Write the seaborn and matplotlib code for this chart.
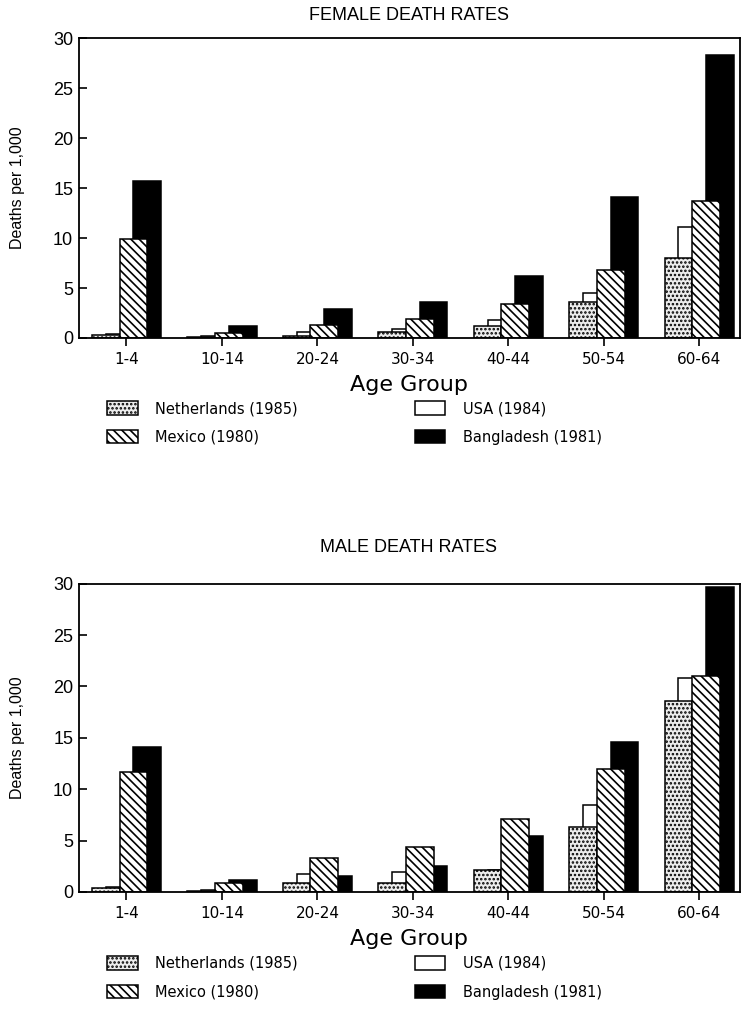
import numpy as np
import pandas as pd
import matplotlib
matplotlib.use('Agg')
import matplotlib.pyplot as plt
from matplotlib.patches import Patch
import seaborn as sns

# ─── data (deaths per 1,000) ────────────────────────────────────────────────
age_groups = ['1-4', '10-14', '20-24', '30-34', '40-44', '50-54', '60-64']
countries  = ['Netherlands (1985)', 'USA (1984)', 'Mexico (1980)', 'Bangladesh (1981)']

female_netherlands = [0.3, 0.05, 0.2, 0.6, 1.2, 3.6, 8.0]
female_usa         = [0.4, 0.15, 0.55, 0.85, 1.8, 4.5, 11.1]
female_mexico      = [9.9, 0.5, 1.3, 1.9, 3.4, 6.8, 13.7]
female_bangladesh  = [15.7, 1.2, 2.9, 3.6, 6.2, 14.1, 28.3]

male_netherlands = [0.35, 0.1, 0.85, 0.85, 2.1, 6.3, 18.6]
male_usa         = [0.45, 0.2, 1.75, 1.9, 2.1, 8.5, 20.8]
male_mexico      = [11.7, 0.9, 3.3, 4.35, 7.1, 12.0, 21.0]
male_bangladesh  = [14.1, 1.2, 1.55, 2.5, 5.4, 14.6, 29.7]

y_ticks = [0, 5, 10, 15, 20, 25, 30]


def long_table(series):
    rows = []
    for country, vals in zip(countries, series):
        for age, v in zip(age_groups, vals):
            rows.append({'age': age, 'country': country, 'rate': v})
    return pd.DataFrame(rows)


female_df = long_table([female_netherlands, female_usa, female_mexico, female_bangladesh])
male_df   = long_table([male_netherlands, male_usa, male_mexico, male_bangladesh])

# ─── style ──────────────────────────────────────────────────────────────────
sns.set_theme(style='ticks')
plt.rcParams['font.family'] = ['DejaVu Sans']
plt.rcParams['hatch.linewidth'] = 1.2
for k in ['text.color', 'axes.labelcolor', 'xtick.color', 'ytick.color']:
    plt.rcParams[k] = 'black'

FACE  = {'Netherlands (1985)': '#ececec', 'USA (1984)': 'white',
         'Mexico (1980)': 'white', 'Bangladesh (1981)': 'black'}
HATCH = {'Netherlands (1985)': '....', 'USA (1984)': '',
         'Mexico (1980)': '\\\\\\\\', 'Bangladesh (1981)': ''}
ZORD  = {'Netherlands (1985)': 3, 'USA (1984)': 2,
         'Mexico (1980)': 3, 'Bangladesh (1981)': 1}
BAR_W = 0.29          # each bar overlaps its neighbour by half a bar
STEP  = 0.145

fig = plt.figure(figsize=(7.5, 10.33), dpi=100)
ax_f = fig.add_axes([0.105, 0.6728, 0.882, 0.2904])
ax_m = fig.add_axes([0.105, 0.1365, 0.882, 0.2985])


def draw_panel(ax, df, title, title_y, legend_y):
    sns.barplot(data=df, x='age', y='rate', hue='country',
                order=age_groups, hue_order=countries,
                palette=FACE, width=4 * STEP, dodge=True,
                edgecolor='black', linewidth=1.1, errorbar=None,
                legend=False, ax=ax)
    for cont, country in zip(ax.containers, countries):
        for r in cont:
            cx = r.get_x() + r.get_width() / 2
            r.set_width(BAR_W)
            r.set_x(cx - BAR_W / 2)
            r.set_hatch(HATCH[country])
            r.set_zorder(ZORD[country])

    ax.set_xlim(-0.5, 6.43)
    ax.set_ylim(0, 30)
    ax.set_yticks(y_ticks)
    for s in ax.spines.values():
        s.set_linewidth(1.3)
        s.set_color('black')
        s.set_zorder(5)
    ax.tick_params(axis='y', direction='in', length=6, width=1.2,
                   labelsize=13, pad=4)
    ax.tick_params(axis='x', direction='out', length=6, width=1.2,
                   labelsize=11, pad=4)
    for lbl in ax.get_yticklabels():
        lbl.set_family('Liberation Sans')

    fig.text(0.545, 1 - title_y / 1033, title, fontsize=13,
             family='Liberation Sans', ha='center', va='center')
    ax.set_ylabel('Deaths per 1,000', fontsize=11.5, family='Liberation Sans', labelpad=20)
    ax.set_xlabel('Age Group', fontsize=16, labelpad=6)

    handles = [Patch(facecolor=FACE[c], edgecolor='black', hatch=HATCH[c],
                     linewidth=1.1, label=c)
               for c in ['Netherlands (1985)', 'Mexico (1980)', 'USA (1984)', 'Bangladesh (1981)']]
    fig.legend(handles=handles, ncol=2, loc='upper left',
               bbox_to_anchor=(0.143, 1 - legend_y / 1033), frameon=False,
               fontsize=10.5, handlelength=2.1, handleheight=1.0,
               handletextpad=1.2, labelspacing=0.95, columnspacing=8.0,
               borderpad=0, borderaxespad=0)


draw_panel(ax_f, female_df, 'FEMALE DEATH RATES', 15, 401)
draw_panel(ax_m, male_df, 'MALE DEATH RATES', 548, 956)

fig.savefig('out.png', dpi=100)
